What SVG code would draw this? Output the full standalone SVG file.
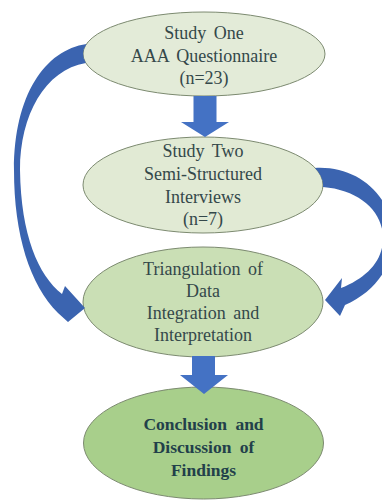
<svg xmlns="http://www.w3.org/2000/svg" width="382" height="501" viewBox="0 0 382 501">
<style>
.bg{fill:#ffffff}
.node{stroke:#7c8a70;stroke-width:1}
.n1{fill:#e3ebd8}
.n2{fill:#e1ead4}
.n3{fill:#cadfb5}
.n4{fill:#a8cf8b}
.t{font-family:"Liberation Serif","Times New Roman",serif;font-size:18px;fill:#34484a;text-anchor:middle;word-spacing:3px}
.tb{font-family:"Liberation Serif","Times New Roman",serif;font-size:17.5px;font-weight:bold;fill:#22404a;text-anchor:middle;word-spacing:4px}
.down{fill:#4472c4}
.curve{fill:#3b64b0}
</style>
<rect class="bg" x="0" y="0" width="382" height="501"/>
<g id="node-study-one">
<ellipse class="node n1" cx="204" cy="54" rx="121" ry="42"/>
<text class="t" x="204" y="39">Study One</text>
<text class="t" x="204" y="62">AAA Questionnaire</text>
<text class="t" x="204" y="84">(n=23)</text>
</g>
<g id="node-study-two">
<ellipse class="node n2" cx="203" cy="185" rx="120" ry="48"/>
<text class="t" x="203" y="157">Study Two</text>
<text class="t" x="203" y="180">Semi-Structured</text>
<text class="t" x="203" y="203">Interviews</text>
<text class="t" x="203" y="225">(n=7)</text>
</g>
<g id="node-triangulation">
<ellipse class="node n3" cx="203" cy="302" rx="120" ry="55"/>
<text class="t" x="203" y="275">Triangulation of</text>
<text class="t" x="203" y="297">Data</text>
<text class="t" x="203" y="319">Integration and</text>
<text class="t" x="203" y="341">Interpretation</text>
</g>
<g id="node-conclusion">
<ellipse class="node n4" cx="203.5" cy="443" rx="120" ry="56"/>
<text class="tb" x="203.5" y="430">Conclusion and</text>
<text class="tb" x="203.5" y="453">Discussion of</text>
<text class="tb" x="203.5" y="476">Findings</text>
</g>
<g id="connectors">
<path class="down" d="M193.5,96 L216.5,96 L216.5,122 L229,122 L205,137 L181,122 L193.5,122 Z"/>
<path class="down" d="M192,356 L215,356 L215,375 L228,375 L204,394 L180,375 L192,375 Z"/>
<path class="curve" d="M86.5,44 C45,50 14,95 14,170 C14,235 30,285 58,313 L68,322 L85,308 L65,286 L62,294 C38,275 21,235 20,170 C20,115 45,70 85.8,63 A121 42 0 0 1 86.5,44 Z"/>
<path class="curve" d="M315,168 C350,166 378,185 390,215 C402,248 385,288 345,305 L340,316 L325,300 L342,278 L341,288 C366,278 382,262 383,240 C384,212 360,190 323,187 A120 48 0 0 0 315,168 Z"/>
</g>
</svg>
